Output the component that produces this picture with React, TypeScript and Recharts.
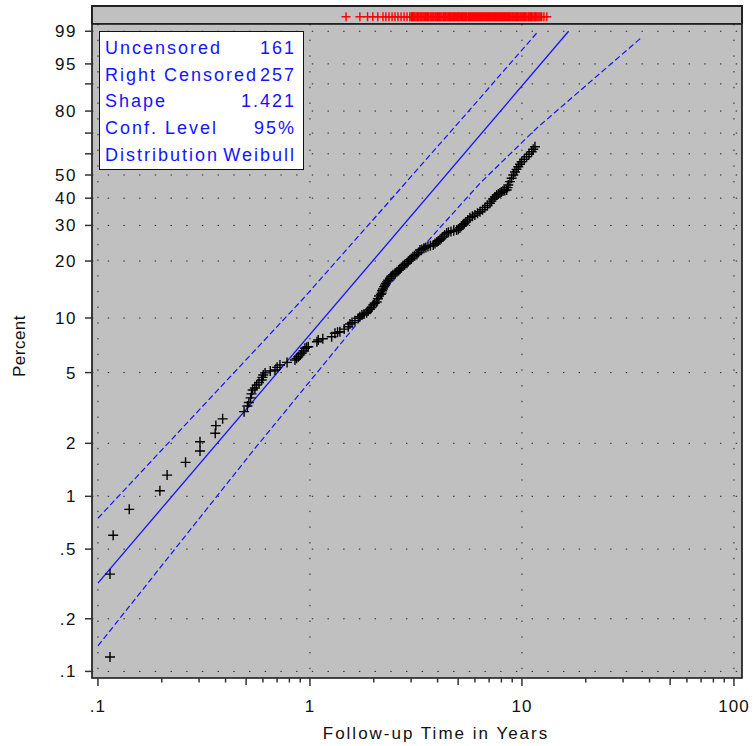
import React from 'react';
import { ComposedChart, ScatterChart, Scatter, XAxis, YAxis, CartesianGrid, ReferenceArea } from 'recharts';

// uncensored failures: follow-up time (years) and plotted percent
const FAIL_TIMES = [
  0.114, 0.114, 0.118, 0.1405, 0.196, 0.212, 0.259, 0.303, 0.303, 0.3575, 0.36, 0.3875,
  0.489, 0.507, 0.515, 0.525, 0.53, 0.537, 0.55, 0.561, 0.575, 0.592, 0.597, 0.602,
  0.614, 0.65, 0.684, 0.7, 0.722, 0.78, 0.85, 0.865, 0.881, 0.9, 0.914, 0.93,
  0.947, 0.965, 0.982, 1.079, 1.094, 1.15, 1.266, 1.312, 1.35, 1.385, 1.45, 1.516,
  1.544, 1.58, 1.631, 1.69, 1.72, 1.759, 1.8, 1.851, 1.88, 1.919, 1.95, 1.989,
  2.02, 2.064, 2.09, 2.117, 2.16, 2.179, 2.19, 2.21, 2.24, 2.26, 2.28, 2.308,
  2.34, 2.385, 2.42, 2.464, 2.52, 2.573, 2.62, 2.658, 2.7, 2.746, 2.8, 2.868,
  2.91, 2.963, 3.01, 3.061, 3.12, 3.197, 3.25, 3.303, 3.37, 3.449, 3.52, 3.603,
  3.7, 3.816, 3.89, 3.972, 4.03, 4.104, 4.17, 4.241, 4.32, 4.414, 4.5, 4.626,
  4.77, 4.92, 5.01, 5.1, 5.18, 5.27, 5.35, 5.44, 5.55, 5.684, 5.84, 6.0,
  6.17, 6.34, 6.52, 6.69, 6.88, 7.066, 7.18, 7.3, 7.45, 7.6, 7.74, 7.88,
  8.0, 8.14, 8.3, 8.47, 8.55, 8.62, 8.78, 8.94, 9.1, 9.27, 9.44, 9.61,
  9.79, 9.97, 10.25, 10.52, 10.8, 11.11, 11.3, 11.52,
];
const FAIL_PCT = [
  0.121, 0.36, 0.6, 0.843, 1.076, 1.32, 1.56, 1.81, 2.04, 2.28, 2.52, 2.75,
  3.02, 3.25, 3.4, 3.61, 3.8, 4.0, 4.1, 4.26, 4.4, 4.55, 4.7, 4.85,
  4.98, 5.1, 5.17, 5.35, 5.51, 5.7, 5.88, 6.0, 6.13, 6.27, 6.4, 6.6,
  6.82, 6.9, 6.96, 7.42, 7.58, 7.7, 7.9, 8.25, 8.35, 8.42, 8.7, 8.96,
  9.28, 9.45, 9.67, 9.96, 10.15, 10.38, 10.5, 10.68, 10.9, 11.14, 11.4, 11.75,
  12.0, 12.2, 12.7, 13.13, 13.4, 13.6, 14.0, 14.3, 14.7, 15.0, 15.3, 15.6,
  15.9, 16.3, 16.7, 17.0, 17.3, 17.6, 17.9, 18.2, 18.5, 18.9, 19.2, 19.5,
  19.9, 20.3, 20.6, 21.0, 21.3, 21.6, 22.1, 22.75, 22.9, 23.2, 23.4, 23.7,
  23.9, 24.1, 24.5, 24.9, 25.2, 25.5, 25.9, 26.4, 27.0, 27.6, 27.8, 28.06,
  28.3, 28.5, 28.8, 29.2, 29.7, 30.14, 30.6, 31.15, 31.8, 32.6, 33.1, 33.6,
  34.2, 34.78, 35.5, 36.35, 37.1, 37.96, 38.8, 39.67, 40.5, 41.29, 41.7, 42.12,
  42.5, 43.0, 43.2, 43.4, 44.4, 45.5, 47.0, 48.5, 50.0, 51.4, 52.6, 53.85,
  55.0, 56.22, 57.4, 58.61, 59.8, 61.02, 62.2, 63.45,
];

// right censored times (years), shown in the top strip
const CENSORED_TIMES = [
  1.48, 1.72, 1.87, 1.98, 2.09, 2.21, 2.28, 2.36, 2.44, 2.52, 2.6, 2.69, 2.78, 2.87, 2.96,
  3.0, 3.02, 3.05, 3.08, 3.1, 3.13, 3.17, 3.21, 3.24, 3.27, 3.31, 3.35, 3.38, 3.42, 3.46,
  3.5, 3.54, 3.58, 3.61, 3.64, 3.69, 3.73, 3.77, 3.81, 3.85, 3.9, 3.94, 3.99, 4.03, 4.07,
  4.11, 4.15, 4.2, 4.26, 4.3, 4.35, 4.39, 4.44, 4.5, 4.55, 4.6, 4.64, 4.7, 4.76, 4.8,
  4.85, 4.91, 4.97, 5.01, 5.06, 5.12, 5.19, 5.24, 5.3, 5.35, 5.41, 5.48, 5.56, 5.61, 5.66,
  5.72, 5.79, 5.85, 5.91, 5.98, 6.04, 6.1, 6.17, 6.25, 6.32, 6.38, 6.45, 6.51, 6.58, 6.66,
  6.74, 6.81, 6.89, 6.96, 7.03, 7.11, 7.19, 7.28, 7.36, 7.43, 7.51, 7.6, 7.68, 7.76, 7.85,
  7.94, 8.03, 8.11, 8.2, 8.29, 8.38, 8.47, 8.57, 8.66, 8.75, 8.86, 8.96, 9.05, 9.15, 9.26,
  9.36, 9.45, 9.55, 9.66, 9.78, 9.88, 9.98, 10.1, 10.2, 10.3, 10.4, 10.55, 10.7, 10.8, 10.9,
  11.0, 11.1, 11.25, 11.4, 11.5, 11.6, 11.75, 11.9, 12.05, 12.2, 12.4, 12.7, 13.1,
];

// fitted Weibull line and 95% bounds
const FIT_TIMES = [0.1, 16.6];
const FIT_PCT = [0.32, 99];
const UPPER_TIMES = [0.1, 0.42, 0.917, 2.18, 5.1, 11.94];
const UPPER_PCT = [0.75, 4.73, 12.5, 35.4, 75.6, 99];
const LOWER_TIMES = [0.1, 0.55, 2.06, 3.3, 6.34, 11.73, 36.3];
const LOWER_PCT = [0.14, 1.87, 12.5, 22.75, 46.3, 72.3, 98.5];

const X_TICKS = [
  0.1, 0.2, 0.3, 0.4, 0.5, 0.6, 0.7, 0.8, 0.9,
  1, 2, 3, 4, 5, 6, 7, 8, 9,
  10, 20, 30, 40, 50, 60, 70, 80, 90, 100,
];
const X_LABELS = ['.1', '', '', '', '', '', '', '', '', '1', '', '', '', '', '', '', '', '', '10', '', '', '', '', '', '', '', '', '100'];
const X_GRID = [0.1, 1, 10, 100];
const Y_TICKS = [0.1, 0.2, 0.5, 1, 2, 5, 10, 20, 30, 40, 50, 60, 70, 80, 90, 95, 99];
const Y_LABELS = ['.1', '.2', '.5', '1', '2', '5', '10', '20', '30', '40', '50', '', '', '80', '', '95', '99'];

const LEGEND_ROWS = [
  ['Uncensored', '161'],
  ['Right Censored', '257'],
  ['Shape', '1.421'],
  ['Conf. Level', '95%'],
  ['Distribution', 'Weibull'],
];

const BLUE = '#1414ff';
const FONT = '"Liberation Sans", Arial, sans-serif';

const lx = (t: number) => Math.log10(t);
const wb = (p: number) => Math.log(-Math.log(1 - p / 100));

const X_DOMAIN = [-1.028, 2.038];
const Y_DOMAIN = [-6.994, 1.623];

const toPts = (ts: number[], ps: number[]) => ts.map((t, i) => ({ x: lx(t), y: wb(ps[i]) }));

const failData = toPts(FAIL_TIMES, FAIL_PCT);
const fitData = toPts(FIT_TIMES, FIT_PCT);
const upperData = toPts(UPPER_TIMES, UPPER_PCT);
const lowerData = toPts(LOWER_TIMES, LOWER_PCT);
const censData = CENSORED_TIMES.map(t => ({ x: lx(t), y: 0.4 }));

const xTickVals = X_TICKS.map(lx);
const yTickVals = Y_TICKS.map(wb);

const nearest = (arr: number[], v: number) => {
  let bi = 0;
  arr.forEach((a, i) => { if (Math.abs(a - v) < Math.abs(arr[bi] - v)) bi = i; });
  return bi;
};

const XTick = (props: any) => {
  const { x, y, payload } = props;
  const i = nearest(xTickVals, payload.value);
  const t = X_TICKS[i];
  const m = Math.round(t / Math.pow(10, Math.floor(Math.log10(t) + 1e-9)));
  const len = m === 1 ? 8 : m === 5 ? 7 : 4.5;
  return (
    <g>
      <line x1={x} x2={x} y1={y} y2={y + len} stroke="#333" strokeWidth={1.5} />
      {X_LABELS[i] && (
        <text x={x} y={y + 34} textAnchor="middle" fontFamily={FONT} fontSize={17} fill="#111" letterSpacing={1}>
          {X_LABELS[i]}
        </text>
      )}
    </g>
  );
};

const YTick = (props: any) => {
  const { x, y, payload } = props;
  const i = nearest(yTickVals, payload.value);
  return (
    <g>
      <line x1={x - 7} x2={x + 1} y1={y} y2={y} stroke="#333" strokeWidth={1.5} />
      {Y_LABELS[i] && (
        <text x={x - 15} y={y} dy={6} textAnchor="end" fontFamily={FONT} fontSize={17} fill="#111" letterSpacing={1.5}>
          {Y_LABELS[i]}
        </text>
      )}
    </g>
  );
};

const Plus = (props: any) => {
  const { cx, cy } = props;
  return <path d={`M${cx - 5},${cy}h10M${cx},${cy - 5}v10`} stroke="#000" strokeWidth={1.4} fill="none" />;
};
const RedPlus = (props: any) => {
  const { cx, cy } = props;
  return <path d={`M${cx - 4.5},${cy}h9M${cx},${cy - 4.5}v9`} stroke="#ff0000" strokeWidth={1.4} fill="none" />;
};
const NoDot = () => <g />;

export default function App() {
  return (
    <div style={{ position: 'absolute', left: 0, top: 0, width: 754, height: 746, background: '#fff' }}>
      <div style={{ position: 'absolute', left: 0, top: 0 }}>
        <ComposedChart width={754} height={746} margin={{ top: 24, right: 12, left: 32, bottom: 28 }}>
          <CartesianGrid
            fill="#c0c0c0"
            stroke="#222"
            strokeDasharray="1.4 14.3"
            horizontalValues={yTickVals}
            verticalValues={X_GRID.map(lx)}
          />
          <XAxis type="number" dataKey="x" domain={X_DOMAIN} allowDataOverflow ticks={xTickVals} interval={0}
            tick={XTick} tickLine={false} axisLine={false} tickSize={0} tickMargin={0} height={40} />
          <YAxis type="number" dataKey="y" domain={Y_DOMAIN} allowDataOverflow ticks={yTickVals} interval={0}
            tick={YTick} tickLine={false} axisLine={false} tickSize={0} tickMargin={0} width={60} />
          <Scatter data={fitData} fill={BLUE} shape={NoDot} line={{ stroke: BLUE, strokeWidth: 1.3 }} isAnimationActive={false} />
          <Scatter data={upperData} fill={BLUE} shape={NoDot} line={{ stroke: BLUE, strokeWidth: 1.2, strokeDasharray: '6 3' }} isAnimationActive={false} />
          <Scatter data={lowerData} fill={BLUE} shape={NoDot} line={{ stroke: BLUE, strokeWidth: 1.2, strokeDasharray: '6 3' }} isAnimationActive={false} />
          <Scatter data={failData} fill="#000" shape={Plus} isAnimationActive={false} />
          <ReferenceArea x1={X_DOMAIN[0]} x2={X_DOMAIN[1]} y1={Y_DOMAIN[0]} y2={Y_DOMAIN[1]}
            fill="none" stroke="#111" strokeWidth={1.6} fillOpacity={0} />
        </ComposedChart>
      </div>
      <div style={{ position: 'absolute', left: 0, top: 0 }}>
        <ScatterChart width={754} height={24} margin={{ top: 6, right: 12, left: 92, bottom: 0 }}>
          <CartesianGrid fill="#c0c0c0" horizontal={false} vertical={false} />
          <XAxis type="number" dataKey="x" domain={X_DOMAIN} allowDataOverflow hide />
          <YAxis type="number" dataKey="y" domain={[0, 1]} allowDataOverflow hide />
          <Scatter data={censData} fill="#ff0000" shape={RedPlus} isAnimationActive={false} />
          <ReferenceArea x1={X_DOMAIN[0]} x2={X_DOMAIN[1]} y1={0} y2={1}
            fill="none" stroke="#222" strokeWidth={2} fillOpacity={0} />
        </ScatterChart>
      </div>
      <svg width={754} height={746} style={{ position: 'absolute', left: 0, top: 0, pointerEvents: 'none' }}>
        <rect x={99.5} y={31.5} width={204} height={138} fill="#fff" stroke="#111" strokeWidth={1} />
        {LEGEND_ROWS.map(([k, v], i) => (
          <g key={k} fontFamily={FONT} fontSize={18} fill={BLUE} letterSpacing={2}>
            <text x={105} y={54 + i * 26.7}>{k}</text>
            <text x={296} y={54 + i * 26.7} textAnchor="end">{v}</text>
          </g>
        ))}
        <text transform="translate(25,346) rotate(-90)" textAnchor="middle" fontFamily={FONT} fontSize={17} fill="#111" letterSpacing={0.5}>
          Percent
        </text>
        <text x={436} y={739} textAnchor="middle" fontFamily={FONT} fontSize={17} fill="#111" letterSpacing={2}>
          Follow-up Time in Years
        </text>
      </svg>
    </div>
  );
}
